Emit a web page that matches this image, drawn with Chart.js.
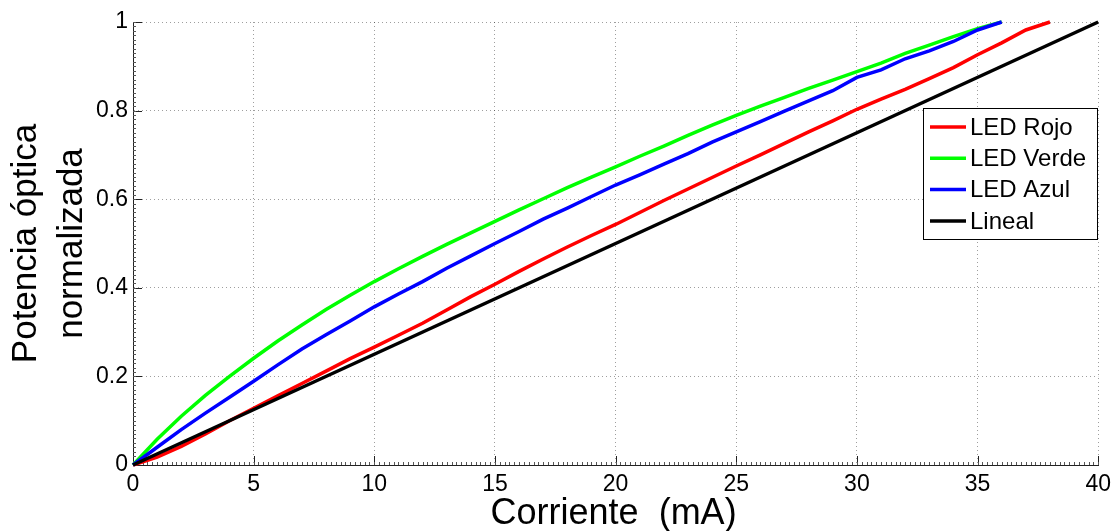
<!DOCTYPE html>
<html>
<head>
<meta charset="utf-8">
<script src="https://cdn.jsdelivr.net/npm/chart.js@4.4.0/dist/chart.umd.min.js"></script>
<style>
  html, body { margin: 0; padding: 0; background: #fff; }
  canvas { display: block; }
</style>
</head>
<body>
<canvas id="led-chart" width="1117" height="531"></canvas>
<script>
// Corriente (mA) de cada medida
const corriente = [0, 1, 2, 3, 4, 5, 6, 7, 8, 9, 10, 11, 12, 13, 14, 15, 16, 17, 18, 19,
  20, 21, 22, 23, 24, 25, 26, 27, 28, 29, 30, 31, 32, 33, 34, 35, 36, 37, 38];

// Potencia óptica normalizada de cada LED
const ledRojo = [0, 0.018, 0.042, 0.07, 0.1, 0.128, 0.156, 0.184, 0.212, 0.24, 0.266, 0.293,
  0.32, 0.35, 0.38, 0.408, 0.437, 0.465, 0.492, 0.518, 0.543, 0.57, 0.597, 0.623, 0.649, 0.675,
  0.7, 0.726, 0.752, 0.777, 0.803, 0.826, 0.848, 0.872, 0.897, 0.926, 0.953, 0.982, 1.0];
const ledVerde = [0, 0.058, 0.11, 0.157, 0.2, 0.241, 0.28, 0.316, 0.351, 0.383, 0.414, 0.443,
  0.471, 0.498, 0.524, 0.55, 0.576, 0.601, 0.626, 0.65, 0.673, 0.697, 0.72, 0.744, 0.767, 0.789,
  0.81, 0.83, 0.85, 0.869, 0.888, 0.907, 0.929, 0.948, 0.967, 0.985, 1.0];
const ledAzul = [0, 0.04, 0.08, 0.117, 0.153, 0.189, 0.226, 0.262, 0.294, 0.325, 0.357, 0.386,
  0.414, 0.444, 0.472, 0.5, 0.527, 0.555, 0.58, 0.606, 0.632, 0.655, 0.679, 0.703, 0.729, 0.752,
  0.775, 0.799, 0.822, 0.845, 0.875, 0.892, 0.917, 0.935, 0.956, 0.982, 1.0];
const linealX = [0, 40];
const linealY = [0, 1];

const xTicks = [0, 5, 10, 15, 20, 25, 30, 35, 40];
const yTicks = [0, 0.2, 0.4, 0.6, 0.8, 1];
const etiquetas = ['LED Rojo', 'LED Verde', 'LED Azul', 'Lineal'];
const colores = ['#ff0000', '#00ff00', '#0000ff', '#000000'];
const tituloX = 'Corriente  (mA)';
const tituloY = ['Potencia óptica', 'normalizada'];

const FUENTE = "'Liberation Sans', Arial, Helvetica, sans-serif";

// convierte dos listas en puntos {x, y}
function puntos(xs, ys) {
  return ys.map((y, i) => ({ x: xs[i], y: y }));
}

// marcas de los ejes (hacia dentro, estilo MATLAB)
const marcasEjes = {
  id: 'marcasEjes',
  beforeDatasetsDraw(chart) {
    const { ctx, chartArea: a, scales: { x, y } } = chart;
    ctx.save();
    ctx.strokeStyle = '#222';
    ctx.lineWidth = 1;
    ctx.beginPath();
    xTicks.forEach(v => {
      const px = Math.round(x.getPixelForValue(v)) + 0.5;
      ctx.moveTo(px, a.bottom);
      ctx.lineTo(px, a.bottom - 9);
    });
    yTicks.forEach(v => {
      const py = Math.round(y.getPixelForValue(v)) + 0.5;
      ctx.moveTo(a.left, py);
      ctx.lineTo(a.left + 9, py);
    });
    ctx.stroke();
    // marcas menores
    ctx.strokeStyle = '#555';
    ctx.beginPath();
    for (let i = 0; i <= 200; i++) {
      const px = Math.round(x.getPixelForValue(i * 0.2)) + 0.5;
      ctx.moveTo(px, a.bottom);
      ctx.lineTo(px, a.bottom - 3);
    }
    for (let i = 0; i <= 100; i++) {
      const py = Math.round(y.getPixelForValue(i * 0.01)) + 0.5;
      ctx.moveTo(a.left, py);
      ctx.lineTo(a.left + 3, py);
    }
    ctx.stroke();
    ctx.restore();
  }
};

// títulos de ejes y leyenda dentro del área
const titulosYLeyenda = {
  id: 'titulosYLeyenda',
  afterDraw(chart) {
    const { ctx, chartArea: a } = chart;
    ctx.save();
    ctx.fillStyle = '#000';
    ctx.textAlign = 'center';
    ctx.textBaseline = 'alphabetic';
    ctx.font = '36px ' + FUENTE;
    ctx.fillText(tituloX, (a.left + a.right) / 2 - 2, 524);

    ctx.save();
    ctx.translate(0, (a.top + a.bottom) / 2);
    ctx.rotate(-Math.PI / 2);
    ctx.font = '35px ' + FUENTE;
    ctx.fillText(tituloY[0], 0, 36);
    ctx.fillText(tituloY[1], 0, 82);
    ctx.restore();

    // leyenda
    const box = { x: 923.5, y: 108.5, w: 174, h: 131 };
    ctx.fillStyle = '#fff';
    ctx.fillRect(box.x, box.y, box.w, box.h);
    ctx.strokeStyle = '#000';
    ctx.lineWidth = 1;
    ctx.strokeRect(box.x, box.y, box.w, box.h);
    ctx.font = '24px ' + FUENTE;
    ctx.textAlign = 'left';
    ctx.textBaseline = 'middle';
    etiquetas.forEach((txt, i) => {
      const cy = 127 + i * 31.3;
      ctx.strokeStyle = colores[i];
      ctx.lineWidth = 3.5;
      ctx.beginPath();
      ctx.moveTo(930, cy);
      ctx.lineTo(966, cy);
      ctx.stroke();
      ctx.fillStyle = '#000';
      ctx.fillText(txt, 970, cy + 1);
    });
    ctx.restore();
  }
};

const series = [
  puntos(corriente, ledRojo),
  puntos(corriente, ledVerde),
  puntos(corriente, ledAzul),
  puntos(linealX, linealY)
];

const ctx = document.getElementById('led-chart').getContext('2d');
new Chart(ctx, {
  type: 'line',
  data: {
    datasets: series.map((d, i) => ({
      label: etiquetas[i],
      data: d,
      borderColor: colores[i],
      backgroundColor: colores[i],
      borderWidth: 3.5,
      pointRadius: 0,
      tension: 0,
      fill: false,
      clip: false,
      order: 4 - i
    }))
  },
  options: {
    responsive: false,
    animation: false,
    events: [],
    layout: { padding: { top: 22, right: 17, left: 0, bottom: 0 } },
    plugins: {
      legend: { display: false },
      tooltip: { enabled: false }
    },
    scales: {
      x: {
        type: 'linear',
        min: 0,
        max: 40,
        afterBuildTicks: scale => { scale.ticks = xTicks.map(v => ({ value: v })); },
        afterFit: scale => { scale.height = 66; },
        ticks: {
          padding: 6,
          maxRotation: 0,
          color: '#000',
          font: { family: FUENTE, size: 23 },
          callback: v => String(v)
        },
        grid: { color: 'rgba(0,0,0,0.38)', lineWidth: 1, drawTicks: false },
        border: { display: true, color: '#222', width: 1, dash: [1, 3] }
      },
      y: {
        type: 'linear',
        min: 0,
        max: 1,
        afterBuildTicks: scale => { scale.ticks = yTicks.map(v => ({ value: v })); },
        afterFit: scale => { scale.width = 133; },
        ticks: {
          padding: 5,
          color: '#000',
          font: { family: FUENTE, size: 23 },
          callback: v => String(Math.round(v * 10) / 10)
        },
        grid: { color: 'rgba(0,0,0,0.38)', lineWidth: 1, drawTicks: false },
        border: { display: true, color: '#222', width: 1, dash: [1, 3] }
      }
    }
  },
  plugins: [marcasEjes, titulosYLeyenda]
});
</script>
</body>
</html>
